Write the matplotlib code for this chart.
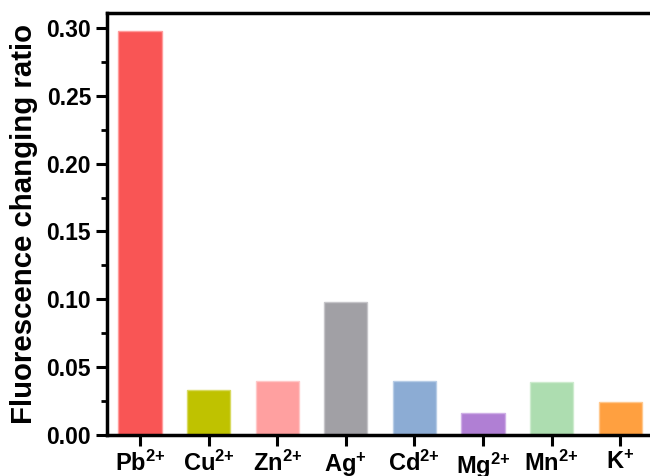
import matplotlib
matplotlib.use("Agg")
import matplotlib.pyplot as plt
from matplotlib.ticker import MultipleLocator, FormatStrFormatter

ions = ["Pb", "Cu", "Zn", "Ag", "Cd", "Mg", "Mn", "K"]
charges = ["2{+}", "2{+}", "2{+}", "{+}", "2{+}", "2{+}", "2{+}", "{+}"]
values = [0.298, 0.033, 0.040, 0.098, 0.040, 0.016, 0.039, 0.024]
colors = ["#F95555", "#BFC200", "#FFA0A0", "#A1A0A5", "#8CACD4", "#B07FD4", "#ADDDB0", "#FFA040"]
edges = ["#FF9C9C", "#D8DA60", "#FFC8C8", "#C6C5C9", "#B8CDE6", "#CFB0E6", "#CDEBCE", "#FFC88E"]

plt.rcParams["font.family"] = ["Liberation Sans", "DejaVu Sans"]
plt.rcParams["font.weight"] = "bold"
plt.rcParams["mathtext.fontset"] = "custom"
plt.rcParams["mathtext.rm"] = "Liberation Sans:bold"
plt.rcParams["mathtext.bf"] = "Liberation Sans:bold"
plt.rcParams["mathtext.default"] = "bf"

fig = plt.figure(figsize=(6.5, 4.76), dpi=100)
ax = fig.add_axes([107/650, 1 - 435/476, (665 - 107)/650, (435 - 13)/476])

x = list(range(len(ions)))
ax.bar(x, values, width=0.63, color=colors, edgecolor=edges, linewidth=1.0)

ax.set_xlim(-0.48, (665 - 140) / 68.6)
ax.set_ylim(0, 0.311)
ax.set_xticks(x)
ax.set_xticklabels([f"{i}$^{{{c}}}$" for i, c in zip(ions, charges)], fontsize=17, fontweight="bold")
ax.yaxis.set_major_locator(MultipleLocator(0.05))
ax.yaxis.set_minor_locator(MultipleLocator(0.025))
ax.yaxis.set_major_formatter(FormatStrFormatter("%.2f"))
for lab in ax.get_yticklabels():
    lab.set_fontweight("bold")
    lab.set_fontsize(16.5)
ax.tick_params(axis="both", which="major", direction="out", length=8, width=2.2, pad=3.5)
ax.tick_params(axis="y", which="minor", direction="out", length=4, width=2.0)
for s in ax.spines.values():
    s.set_linewidth(2.5)
ax.set_ylabel("Fluorescence changing ratio", fontsize=21.2, fontweight="bold", labelpad=6)

fig.savefig("out.png", dpi=100, facecolor="white")
